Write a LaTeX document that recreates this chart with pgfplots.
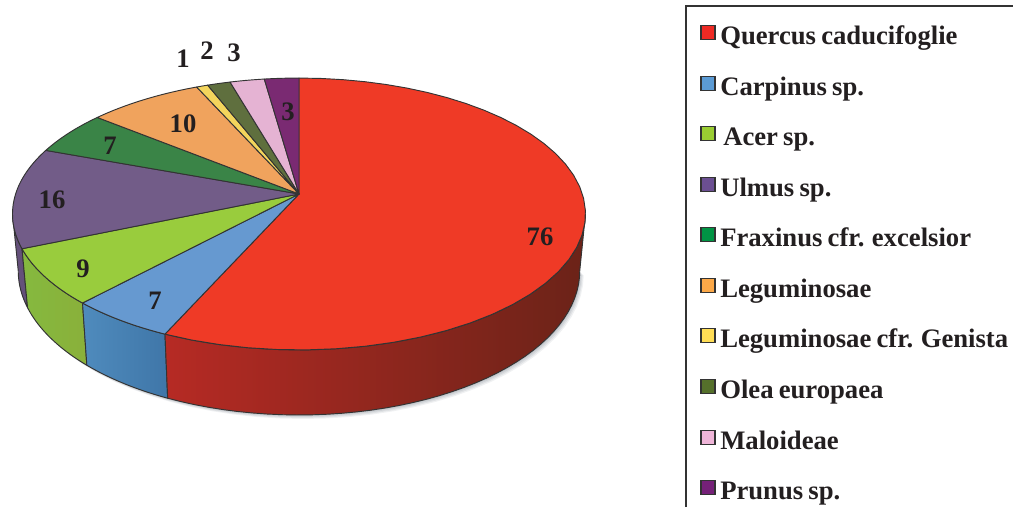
\documentclass[border=0pt]{standalone}
\usepackage{pgfplots}
\pgfplotsset{compat=1.18}
\usepackage{fontspec}
\setmainfont{Liberation Serif}

% Colours of the sectors: top faces
\definecolor{cQuercus}{HTML}{EF3A26}
\definecolor{cCarpinus}{HTML}{6699D0}
\definecolor{cAcer}{HTML}{99CC3D}
\definecolor{cUlmus}{HTML}{725C88}
\definecolor{cFraxinus}{HTML}{3A8447}
\definecolor{cLegum}{HTML}{F0A35D}
\definecolor{cGenista}{HTML}{F3D55C}
\definecolor{cOlea}{HTML}{5F6F3E}
\definecolor{cMalo}{HTML}{E5B3D3}
\definecolor{cPrunus}{HTML}{7A2A72}
% Side walls
\definecolor{sUlmus}{HTML}{64507A}
\definecolor{sAcerL}{HTML}{85B93F}
\definecolor{sAcerR}{HTML}{8AB03A}
\definecolor{sCarpL}{HTML}{4F8BBD}
\definecolor{sCarpM}{HTML}{4880B2}
\definecolor{sCarpR}{HTML}{3F76A8}
\definecolor{sQuerL}{HTML}{B62A24}
\definecolor{sQuerM}{HTML}{762318}
\definecolor{sQuerR}{HTML}{6B2318}
% Legend swatches
\definecolor{lQuercus}{HTML}{EE2A24}
\definecolor{lCarpinus}{HTML}{5B9BD5}
\definecolor{lAcer}{HTML}{9ACD32}
\definecolor{lUlmus}{HTML}{6B4F92}
\definecolor{lFraxinus}{HTML}{009444}
\definecolor{lLegum}{HTML}{FBA848}
\definecolor{lGenista}{HTML}{FFDD55}
\definecolor{lOlea}{HTML}{55702B}
\definecolor{lMalo}{HTML}{EFB5D8}
\definecolor{lPrunus}{HTML}{752178}
\definecolor{edge}{HTML}{333333}
\definecolor{ink}{HTML}{231F20}
\definecolor{halo}{HTML}{6A7480}

% Perspective disc: apex, radii, foreshortening, and the lower rim's scale and offset
\def\cx{299}\def\cy{194}\def\bx{283.4}\def\by{133}\def\kk{0.147}
\def\scx{0.98}\def\scy{1.06}\def\dep{55.7}\def\total{134}\def\nseg{40}

% Appends rim points between two angles to \pts
% #1 from, #2 to, #3 = 0 upper rim / 1 lower rim, #4 #5 extra shift
\newcommand{\rimpts}[5]{%
  \pgfmathsetmacro\stepang{(#2-#1)/\nseg}%
  \foreach \i in {0,...,\nseg}{%
    \pgfmathsetmacro\ang{#1+\i*\stepang}%
    \pgfmathsetmacro\den{1+\kk*cos(\ang)}%
    \pgfmathsetmacro\rx{\bx*sin(\ang)/\den}%
    \pgfmathsetmacro\ry{-\by*cos(\ang)/\den}%
    \ifnum#3=1
      \pgfmathsetmacro\px{\cx+\scx*\rx+#4}%
      \pgfmathsetmacro\py{\cy+\dep+\scy*\ry+#5}%
    \else
      \pgfmathsetmacro\px{\cx+\rx}%
      \pgfmathsetmacro\py{\cy+\ry}%
    \fi
    \xdef\pts{\pts (\px,\py)}%
  }%
}

% Side wall between two cumulative values, shaded left to right
\newcommand{\sidewall}[5]{%
  \pgfmathsetmacro\aa{max(98.5,#1/\total*360)}%
  \pgfmathsetmacro\ab{min(261.5,#2/\total*360)}%
  \gdef\pts{}%
  \rimpts{\aa}{\ab}{0}{0}{0}%
  \rimpts{\ab}{\aa}{1}{0}{0}%
  \edef\cmd{\noexpand\addplot[left color=#3,middle color=#4,right color=#5,
     draw=edge,line width=0.7pt,line join=round] coordinates {\pts} -- cycle;}%
  \cmd
}

% Top face of a sector between two cumulative values
\newcommand{\topface}[3]{%
  \pgfmathsetmacro\aa{#1/\total*360}%
  \pgfmathsetmacro\ab{#2/\total*360}%
  \gdef\pts{(\cx,\cy)}%
  \rimpts{\aa}{\ab}{0}{0}{0}%
  \edef\cmd{\noexpand\addplot[fill=#3,draw=edge,line width=0.7pt,line join=round]
     coordinates {\pts} -- cycle;}%
  \cmd
}

% Soft shadow under the front of the lower rim
\newcommand{\shadowlayer}[2]{%
  \gdef\pts{}%
  \rimpts{98.5}{261.5}{1}{#1}{#1}%
  \edef\cmd{\noexpand\addplot[fill=halo,draw=none,fill opacity=#2] coordinates {\pts} -- cycle;}%
  \cmd
}

% Legend entry: swatch from its own coordinate, name beside it
% [x of the name]{baseline}{swatch centre}{colour}{name}
\newcommand{\legendrow}[5][720]{%
  \addplot[only marks,mark=square*,mark size=5.2pt,
    mark options={fill=#4,draw=edge,line width=1.1pt}] coordinates {(708,#3)};
  \node[anchor=base west,inner sep=0pt,text=ink,font=\fontsize{20}{24}\selectfont\bfseries]
    at (axis cs:#1,#2) {\spaceskip=3.9pt\relax #5};
}

% Value printed on or next to a sector
\newcommand{\vallabel}[3]{%
  \node[anchor=center,inner sep=0pt,text=ink,font=\fontsize{20}{24}\selectfont\bfseries]
    at (axis cs:#1,#2) {#3};
}

\begin{document}
\begin{tikzpicture}
\path[use as bounding box] (0,0) rectangle (759.75pt,380.25pt);
\begin{axis}[
  at={(0,0)},anchor=south west,
  scale only axis,width=759.75pt,height=380.25pt,
  xmin=0,xmax=1013,ymin=0,ymax=507,y dir=reverse,
  hide axis,
]
  \shadowlayer{4}{0.10}
  \shadowlayer{3}{0.12}
  \shadowlayer{2}{0.14}
  \shadowlayer{1}{0.16}

  % Side walls, back to front from the left edge
  \sidewall{92}{108}{sUlmus}{sUlmus}{sUlmus}
  \sidewall{83}{92}{sAcerL}{sAcerL}{sAcerR}
  \sidewall{76}{83}{sCarpL}{sCarpM}{sCarpR}
  \sidewall{0}{76}{sQuerL}{sQuerM}{sQuerR}

  % Top faces; the cumulative values run clockwise from twelve o'clock
  \topface{0}{76}{cQuercus}
  \topface{76}{83}{cCarpinus}
  \topface{83}{92}{cAcer}
  \topface{92}{108}{cUlmus}
  \topface{108}{115}{cFraxinus}
  \topface{115}{125}{cLegum}
  \topface{125}{126}{cGenista}
  \topface{126}{128}{cOlea}
  \topface{128}{131}{cMalo}
  \topface{131}{134}{cPrunus}

  \vallabel{540}{237}{76}
  \vallabel{155}{301}{7}
  \vallabel{83}{269}{9}
  \vallabel{52}{200}{16}
  \vallabel{110}{146}{7}
  \vallabel{183}{124}{10}
  \vallabel{183}{59}{1}
  \vallabel{207}{51}{2}
  \vallabel{234}{53}{3}
  \vallabel{288}{112}{3}

  % Legend frame runs off the page to the right and below
  \addplot[draw=edge,line width=2.1pt] coordinates {(686,507) (686,6) (1013,6)};

  \legendrow{44}{32.5}{lQuercus}{Quercus caducifoglie}
  \legendrow{95}{83.5}{lCarpinus}{Carpinus sp.}
  \legendrow[723]{145}{133.5}{lAcer}{Acer sp.}
  \legendrow{196}{184.5}{lUlmus}{Ulmus sp.}
  \legendrow{246}{234.5}{lFraxinus}{Fraxinus cfr. excelsior}
  \legendrow{297}{285.5}{lLegum}{Leguminosae}
  \legendrow{347}{335.5}{lGenista}{Leguminosae cfr. Genista}
  \legendrow{398}{386.5}{lOlea}{Olea europaea}
  \legendrow{449}{437.5}{lMalo}{Maloideae}
  \legendrow{499}{487.5}{lPrunus}{Prunus sp.}
\end{axis}
\end{tikzpicture}
\end{document}
